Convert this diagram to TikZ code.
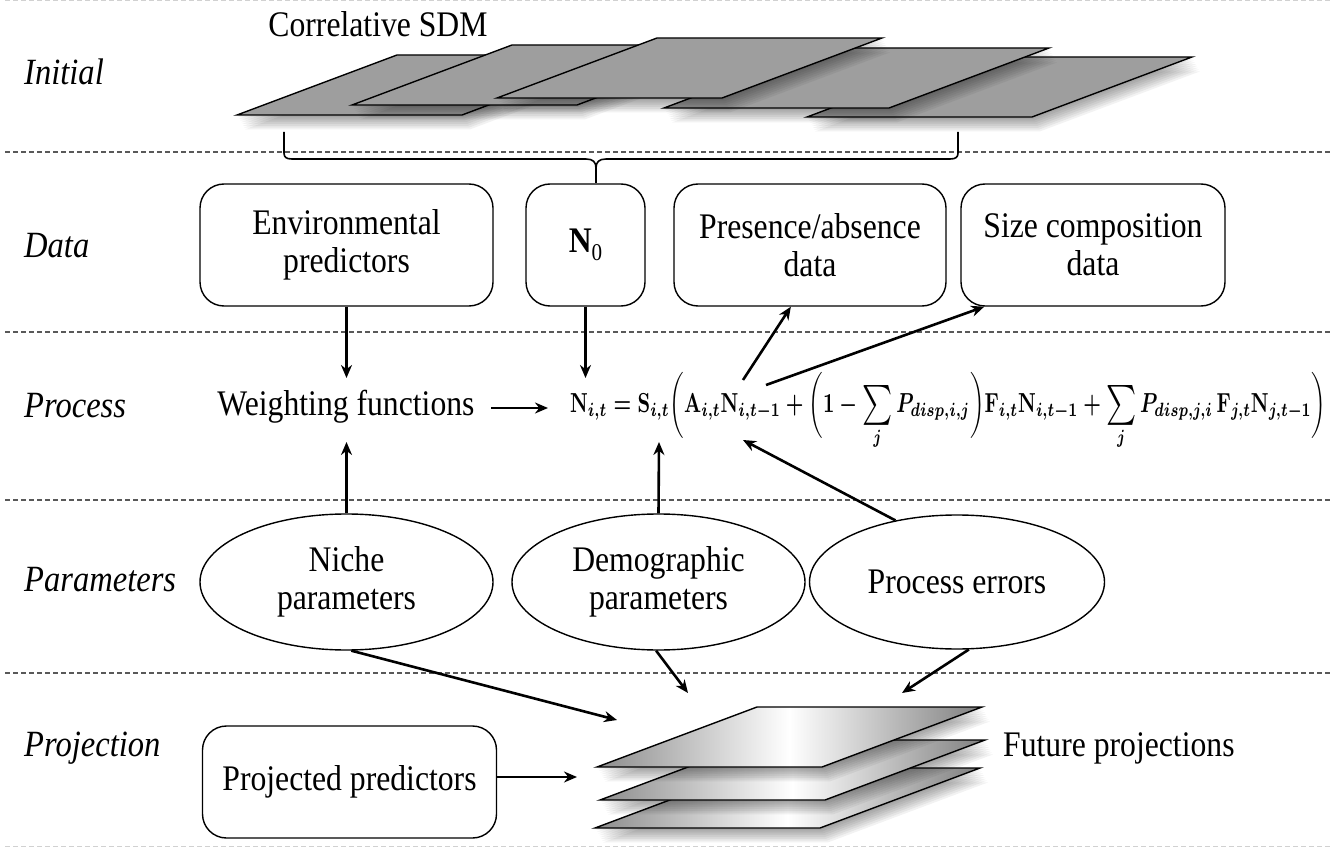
\documentclass[tikz,border=0pt]{standalone}
\usepackage{amsmath}
\usepackage{graphicx}
\usepackage{fontspec}
\setmainfont{Liberation Serif}[FakeStretch=0.88]
\usetikzlibrary{arrows.meta,shapes.geometric,calc}

\tikzset{
  rowlabel/.style={anchor=west, inner sep=0pt, font=\fontsize{37}{37}\selectfont\itshape},
  plain/.style={align=center, inner sep=0pt, font=\fontsize{36}{38}\selectfont},
  databox/.style={plain, draw, line width=1.4pt, rounded corners=24pt},
  param/.style={plain, draw, ellipse, line width=1.4pt},
  link/.style={line width=2.6pt, -{Stealth[length=13pt,width=11pt]}},
  band/.style={line width=1.2pt, black!65, dash pattern=on 5pt off 3pt},
  faintband/.style={line width=1pt, black!18, dash pattern=on 5pt off 3pt},
  brace/.style={line width=1.6pt},
  grey sheet/.style={fill=black!38},
  light sheet/.style={left color=black!45, right color=black!50, middle color=white},
}

% a map layer: parallelogram with lower-left corner (#1,#2), soft shadow, style #3
\newcommand{\mapsheet}[3]{%
  \begin{scope}[shift={(#1,#2)}]
    \foreach \k in {1,...,8}
      \fill[black, opacity=0.05] (\k*1.0, \k*1.8) -- ++(225,0) -- ++(160,-60) -- ++(-225,0) -- cycle;
    \draw[line width=1.4pt, #3] (0,0) -- (225,0) -- (385,-60) -- (160,-60) -- cycle;
  \end{scope}}

% a summation sign a little larger than the inline one, limits below
\newcommand{\midsum}{\mathop{\vcenter{\hbox{\scalebox{1.45}{$\textstyle\sum$}}}}\limits}

\begin{document}
\begin{tikzpicture}[x=1pt, y=-1pt]
  \useasboundingbox (0,0) rectangle (1339,850);
  \fill[white] (0,0) rectangle (1339,850);

  % row separators
  \draw[faintband] (5,1) -- (1330,1);
  \foreach \yy in {152,332,500,673}
    \draw[band] (5,\yy) -- (1330,\yy);
  \draw[faintband] (5,846) -- (1330,846);

  % row labels
  \node[rowlabel] (lInitial)    at (24,72)  {Initial};
  \node[rowlabel] (lData)       at (24,246) {Data};
  \node[rowlabel] (lProcess)    at (24,406) {Process};
  \node[rowlabel] (lParameters) at (24,580) {Parameters};
  \node[rowlabel] (lProjection) at (24,748) {Projection};

  % correlative SDM layers
  \node[plain] (sdm) at (378,24) {Correlative SDM};
  \mapsheet{237}{115}{grey sheet}
  \mapsheet{352}{105}{grey sheet}
  \mapsheet{807}{117}{grey sheet}
  \mapsheet{664}{108}{grey sheet}
  \mapsheet{497}{98}{grey sheet}

  % data boxes
  \node[databox, minimum width=293pt, minimum height=122pt] (env)  at (346.5,245) {Environmental\\predictors};
  \node[databox, minimum width=119pt, minimum height=122pt] (n0)   at (585.5,245) {{\bfseries N}\raisebox{-0.22em}{\fontsize{24}{24}\selectfont 0}};
  \node[databox, minimum width=272pt, minimum height=122pt] (pres) at (810,245) {Presence/absence\\data};
  \node[databox, minimum width=264pt, minimum height=122pt] (size) at (1093,245) {Size composition\\data};

  % brace gathering the SDM layers into N0
  \coordinate (cusp) at (596,168);
  \draw[brace] (284,132) -- (284,153) .. controls (284,157) and (286,159) .. (292,159)
    -- (586,159) .. controls (593,159) and (596,162) .. (cusp);
  \draw[brace] (958,132) -- (958,153) .. controls (958,157) and (956,159) .. (950,159)
    -- (606,159) .. controls (599,159) and (596,162) .. (cusp);
  \draw[brace] (cusp) -- (cusp |- n0.north);

  % process row
  \node[plain] (wf) at (346,407) {Weighting functions};
  \node[anchor=west, inner sep=0pt] (eq) at (570,411)
    {\resizebox{756pt}{\height}{\scalebox{2.75}{\boldmath$\textstyle
      \mathbf{N}_{i,t} = \mathbf{S}_{i,t}\bigg(\mathbf{A}_{i,t}\mathbf{N}_{i,t-1}
      + \bigg(1 - \midsum_{j} P_{disp,i,j}\bigg)\mathbf{F}_{i,t}\mathbf{N}_{i,t-1}
      + \midsum_{j} P_{disp,j,i}\,\mathbf{F}_{j,t}\mathbf{N}_{j,t-1}\bigg)$}}};

  % parameter ellipses
  \node[param, minimum width=293pt, minimum height=136pt] (niche) at (346.5,582) {Niche\\parameters};
  \node[param, minimum width=293pt, minimum height=136pt] (demo)  at (658.5,582) {Demographic\\parameters};
  \node[param, minimum width=295pt, minimum height=134pt] (perr)  at (957,582)   {Process errors};

  % projection row
  \node[databox, minimum width=294pt, minimum height=112pt] (proj) at (349.5,782) {Projected predictors};
  \mapsheet{595}{828}{light sheet}
  \mapsheet{600}{800}{light sheet}
  \mapsheet{597}{767}{light sheet}
  \node[plain, anchor=west] (fut) at (1003,748) {Future projections};

  % attachment points on the equation and the stack
  \coordinate (eqN0) at (585.5,378);
  \coordinate (eqA)  at (743,380);
  \coordinate (eqB)  at (766,385);
  \coordinate (eqS)  at (659,442);
  \coordinate (eqE)  at (743,440);
  \coordinate (wfTip) at (548,408);
  \coordinate (stNiche) at (617,720);
  \coordinate (stDemo)  at (688,693);
  \coordinate (stErr)   at (902,693);
  \coordinate (stProj)  at (577,777);

  % connectors
  \draw[link] (env.south) -- (env.south |- eqN0);
  \draw[link] (n0.south) -- (eqN0);
  \draw[link] (wfTip) ++(-57,0) -- (wfTip);
  \draw[link] (eqA) -- ($(pres.south west)!0.43!(pres.south east)$);
  \draw[link] (eqB) -- ($(size.south west)!0.09!(size.south east)$);
  \draw[link] (niche.north) -- (niche.north |- eqS);
  \draw[link] (demo.north) -- (eqS);
  \draw[link] (perr.135) -- (eqE);
  \draw[link] (niche.-86) -- (stNiche);
  \draw[link] (demo.-92) -- (stDemo);
  \draw[link] (perr.-80) -- (stErr);
  \draw[link] (proj.east |- stProj) -- (stProj);
\end{tikzpicture}
\end{document}
